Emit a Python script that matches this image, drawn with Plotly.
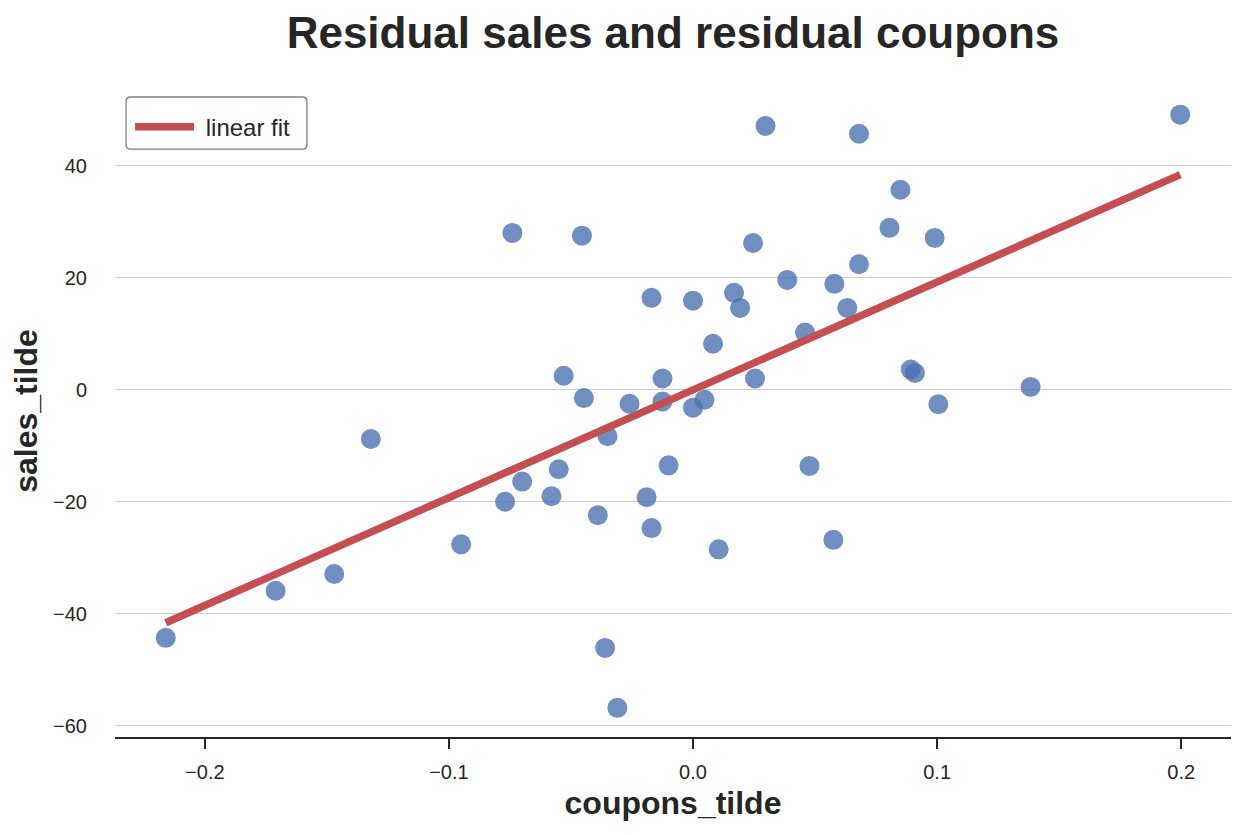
import plotly.graph_objects as go

# residuals
coupons_tilde = [-0.216, -0.171, -0.147, -0.132, -0.095, -0.077, -0.074, -0.070, -0.058, -0.055,
                 -0.053, -0.0455, -0.0447, -0.039, -0.036, -0.035, -0.031, -0.026, -0.019, -0.017,
                 -0.017, -0.0125, -0.0125, -0.010, 0.000, 0.000, 0.0047, 0.0082, 0.0105, 0.0168,
                 0.0193, 0.0246, 0.0254, 0.0297, 0.0386, 0.0459, 0.0477, 0.0575, 0.0579, 0.0632,
                 0.068, 0.068, 0.0805, 0.085, 0.0892, 0.0909, 0.099, 0.1005, 0.1383, 0.1996]
sales_tilde = [-44.3, -35.9, -32.9, -8.8, -27.6, -20.0, 28.0, -16.4, -19.0, -14.2,
               2.5, 27.5, -1.5, -22.4, -46.1, -8.3, -56.8, -2.5, -19.2, 16.4,
               -24.7, 2.0, -2.1, -13.5, 15.9, -3.2, -1.8, 8.2, -28.5, 17.3,
               14.6, 26.2, 2.0, 47.1, 19.6, 10.2, -13.6, -26.8, 18.9, 14.6,
               22.4, 45.7, 28.9, 35.7, 3.6, 3.0, 27.1, -2.6, 0.5, 49.1]

# end points of the fitted line
fit_x = [-0.216, 0.1996]
fit_y = [-41.6, 38.4]

x_ticks = [-0.2, -0.1, 0.0, 0.1, 0.2]
x_labels = ["−0.2", "−0.1", "0.0", "0.1", "0.2"]
y_ticks = [-60, -40, -20, 0, 20, 40]

FONT = "Liberation Sans, Arial, sans-serif"

fig = go.Figure()
fig.add_trace(go.Scatter(x=coupons_tilde, y=sales_tilde, mode="markers",
                         marker=dict(color="#4C72B0", size=20, opacity=0.8, line=dict(width=0)),
                         showlegend=False, hoverinfo="x+y"))
fig.add_trace(go.Scatter(x=fit_x, y=fit_y, mode="lines", name="\u00a0linear fit",
                         line=dict(color="#C44E52", width=7.5)))

# legend frame drawn as a rounded box (paper coords)
bx0, bx1, by0, by1 = 0.0099, 0.1720, 0.9018, 0.9816
rx, ry = 0.004, 0.007
frame = (f"M {bx0+rx},{by1} L {bx1-rx},{by1} Q {bx1},{by1} {bx1},{by1-ry} "
         f"L {bx1},{by0+ry} Q {bx1},{by0} {bx1-rx},{by0} L {bx0+rx},{by0} "
         f"Q {bx0},{by0} {bx0},{by0+ry} L {bx0},{by1-ry} Q {bx0},{by1} {bx0+rx},{by1} Z")

fig.update_layout(
    width=1245, height=835,
    paper_bgcolor="white", plot_bgcolor="white",
    font=dict(family=FONT, color="#262626", size=20),
    margin=dict(l=107, r=22, t=77, b=106),
    title=dict(text="<b>Residual sales and residual coupons</b>", xref="paper", x=0.5, xanchor="center",
               y=0.970, yanchor="middle", font=dict(size=44, color="#262626")),
    shapes=[dict(type="path", path=frame, xref="paper", yref="paper",
                 line=dict(color="#808080", width=1.3), fillcolor="white", layer="above")],
    legend=dict(x=0.0135, y=0.970, xanchor="left", yanchor="top",
                borderwidth=0, bgcolor="rgba(0,0,0,0)",
                font=dict(size=24), itemwidth=59),
    xaxis=dict(range=[-0.2368, 0.2204], tickvals=x_ticks, ticktext=x_labels,
               showgrid=False, zeroline=False, showline=True, linecolor="#262626", linewidth=1.8,
               ticks="outside", ticklen=10, tickwidth=1.5, tickcolor="#262626",
               tickfont=dict(size=20), ticklabelstandoff=6,
               title=dict(text="<b>coupons_tilde</b>", font=dict(size=32), standoff=10),
               automargin=False),
    yaxis=dict(range=[-62.0, 54.4], tickvals=y_ticks,
               showgrid=True, gridcolor="#cccccc", gridwidth=1.3, zeroline=False, showline=False,
               ticks="", tickfont=dict(size=20), ticklabelstandoff=27,
               title=dict(text="<b>sales_tilde</b>", font=dict(size=32), standoff=5),
               automargin=False),
)

fig.write_html("out.html")
